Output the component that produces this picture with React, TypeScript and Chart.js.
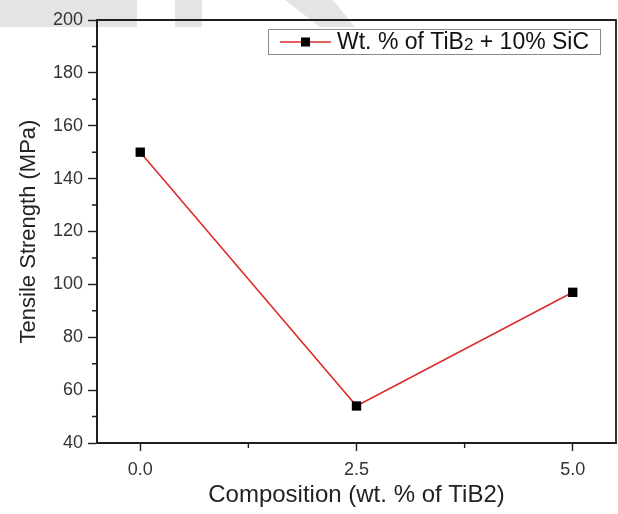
import React, { useEffect, useRef } from "react";
import { Chart, registerables } from "chart.js";

Chart.register(...registerables);

const compositions = [0, 2.5, 5.0];
const tensileStrength = [150, 54, 97];
const seriesLabelMain = "Wt. % of TiB";
const seriesLabelSub = "2";
const seriesLabelTail = " + 10% SiC";
const xTitle = "Composition (wt. % of TiB2)";
const yTitle = "Tensile Strength (MPa)";
const xMajorTicks = [0, 2.5, 5.0];
const xMinorTicks = [1.25, 3.75];
const yMinorTicks = [50, 70, 90, 110, 130, 150, 170, 190];

const FONT = "'Liberation Sans', Arial, sans-serif";
const AXIS_COLOR = "#1e1e1e";
const LINE_RED = "#dc2b2b";

const watermarkPlugin = {
  id: "watermark",
  beforeDraw(chart: any) {
    const { ctx } = chart;
    ctx.save();
    ctx.fillStyle = "#e4e4e4";
    ctx.fillRect(0, 0, 137, 27);
    ctx.fillRect(175, 0, 27, 27);
    ctx.beginPath();
    ctx.moveTo(285, 0);
    ctx.lineTo(333, 0);
    ctx.lineTo(355, 27);
    ctx.lineTo(320, 27);
    ctx.closePath();
    ctx.fill();
    ctx.restore();
  },
};

const framePlugin = {
  id: "frame",
  afterDraw(chart: any) {
    const { ctx, chartArea, scales } = chart;
    const { left, right, top, bottom } = chartArea;
    ctx.save();
    ctx.strokeStyle = AXIS_COLOR;
    ctx.lineWidth = 1.8;
    ctx.beginPath();
    ctx.moveTo(left, top);
    ctx.lineTo(right, top);
    ctx.lineTo(right, bottom);
    ctx.stroke();
    // minor ticks
    ctx.lineWidth = 1.4;
    ctx.beginPath();
    yMinorTicks.forEach((v) => {
      const y = scales.y.getPixelForValue(v);
      ctx.moveTo(left - 5, y);
      ctx.lineTo(left, y);
    });
    xMinorTicks.forEach((v) => {
      const x = scales.x.getPixelForValue(v);
      ctx.moveTo(x, bottom);
      ctx.lineTo(x, bottom + 5);
    });
    ctx.stroke();

    // legend
    const bx = 268, by = 29, bw = 332, bh = 25;
    ctx.fillStyle = "#fff";
    ctx.fillRect(bx, by, bw, bh);
    ctx.strokeStyle = "#8a8a8a";
    ctx.lineWidth = 1;
    ctx.strokeRect(bx + 0.5, by + 0.5, bw, bh);
    const cy = by + bh / 2 + 0.5;
    ctx.strokeStyle = LINE_RED;
    ctx.lineWidth = 1.5;
    ctx.beginPath();
    ctx.moveTo(280, cy);
    ctx.lineTo(331, cy);
    ctx.stroke();
    ctx.fillStyle = "#000";
    ctx.fillRect(301, cy - 4.5, 9, 9);
    ctx.fillStyle = "#111";
    ctx.textBaseline = "middle";
    ctx.textAlign = "left";
    ctx.font = `23px ${FONT}`;
    let tx = 337;
    ctx.fillText(seriesLabelMain, tx, cy + 1);
    tx += ctx.measureText(seriesLabelMain).width;
    ctx.font = `17px ${FONT}`;
    ctx.fillText(seriesLabelSub, tx, cy + 3);
    tx += ctx.measureText(seriesLabelSub).width;
    ctx.font = `23px ${FONT}`;
    ctx.fillText(seriesLabelTail, tx, cy + 1);
    ctx.restore();
  },
};

export default function App() {
  const ref = useRef<HTMLCanvasElement>(null);
  useEffect(() => {
    document.body.style.margin = "0";
    const chart = new Chart(ref.current!, {
      type: "line",
      data: {
        datasets: [
          {
            label: "Wt. % of TiB2 + 10% SiC",
            data: compositions.map((x, i) => ({ x, y: tensileStrength[i] })),
            borderColor: LINE_RED,
            borderWidth: 1.6,
            pointStyle: "rect",
            pointRadius: 6.6,
            pointBackgroundColor: "#000",
            pointBorderColor: "#000",
            pointBorderWidth: 0,
            tension: 0,
          },
        ],
      },
      options: {
        animation: false,
        responsive: false,
        events: [],
        layout: { autoPadding: false, padding: { left: 0, top: 20, right: 2, bottom: 0 } },
        plugins: { legend: { display: false }, tooltip: { enabled: false } },
        scales: {
          x: {
            type: "linear",
            min: -0.5,
            max: 5.5,
            afterBuildTicks: (s: any) => {
              s.ticks = xMajorTicks.map((v) => ({ value: v }));
            },
            afterFit: (s: any) => {
              s.height = 71;
            },
            ticks: {
              callback: (v: any) => Number(v).toFixed(1),
              color: "#333",
              font: { family: FONT, size: 18 },
              padding: 8,
              maxRotation: 0,
            },
            grid: {
              drawOnChartArea: false,
              tickLength: 8,
              tickColor: AXIS_COLOR,
              tickWidth: 1.4,
            },
            border: { display: true, color: AXIS_COLOR, width: 2 },
            title: {
              display: true,
              text: xTitle,
              color: "#222",
              font: { family: FONT, size: 24 },
              padding: { top: 0, bottom: 4 },
            },
          },
          y: {
            min: 40,
            max: 200,
            afterFit: (s: any) => {
              s.width = 97;
            },
            ticks: {
              stepSize: 20,
              color: "#333",
              font: { family: FONT, size: 18 },
              padding: 5,
            },
            grid: {
              drawOnChartArea: false,
              tickLength: 9,
              tickColor: AXIS_COLOR,
              tickWidth: 1.4,
            },
            border: { display: true, color: AXIS_COLOR, width: 2 },
            title: {
              display: true,
              text: yTitle,
              color: "#222",
              font: { family: FONT, size: 22 },
              padding: { top: 16, bottom: 0 },
            },
          },
        },
      },
      plugins: [watermarkPlugin, framePlugin],
    });
    return () => chart.destroy();
  }, []);
  return (
    <div style={{ width: 618, height: 514, background: "#fff" }}>
      <canvas ref={ref} width={618} height={514} />
    </div>
  );
}
